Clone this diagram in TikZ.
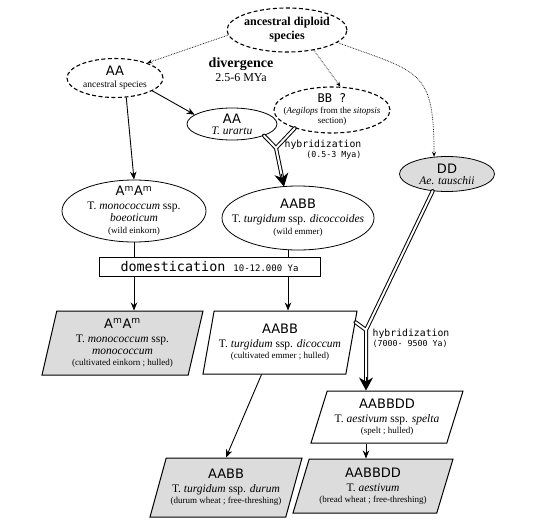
\documentclass[tikz,border=0pt]{standalone}
\usepackage{fontspec}
\setmainfont{Liberation Serif}
\newfontfamily\genFont{DejaVu Sans}
\newfontfamily\monoFont{DejaVu Sans Mono}
\usepackage{tikz}
\usetikzlibrary{shapes.geometric, arrows.meta, positioning, calc}
\definecolor{grisRelleno}{HTML}{DCDCDC}
\newcommand{\genTxt}[1]{{\genFont\fontsize{13}{15}\selectfont #1}}
\newcommand{\taxTxt}[1]{{\fontsize{11.5}{15}\selectfont #1}}
\newcommand{\noteTxt}[1]{{\fontsize{9}{11}\selectfont #1}}

\begin{document}
\begin{tikzpicture}[x=1pt, y=1pt, >={Stealth[length=8pt, width=6.5pt]},
        font=\fontsize{11}{14}\selectfont,
        elip/.style={ellipse, draw, line width=0.8pt, align=center,
            inner xsep=-20pt, inner ysep=-12pt},
        elipD/.style={elip, line width=1.1pt, dash pattern=on 4pt off 2.5pt},
        para/.style={trapezium, trapezium left angle=73, trapezium right angle=107,
            trapezium stretches body, draw, line width=1pt, inner sep=0pt, align=center},
        paraB/.style={para, trapezium left angle=66, trapezium right angle=114},
        flecha/.style={->, line width=0.9pt},
        punteada/.style={-{Stealth[length=5pt, width=4pt]}, densely dotted, line width=0.7pt},
        hibrido/.style={double, double distance=2pt, line width=1pt, line join=round, line cap=round},
        punta/.style={-{Stealth[length=13pt, width=14pt]}, line width=1pt},
        hibLbl/.style={font=\monoFont\fontsize{9.8}{10}\selectfont}]
    \useasboundingbox (0,0) rectangle (540,-522);
    \node[elipD, minimum width=120, minimum height=44, font=\fontsize{12}{14}\selectfont\bfseries]
        (anc) at (287,-30) {ancestral diploid\\species};
    \node[elipD, minimum width=96, minimum height=39] (aa) at (115,-78)
        {\genTxt{AA}\\[-2pt]{\fontsize{9.5}{11}\selectfont ancestral species}};
    \node[align=center] (div) at (241,-70)
        {{\bfseries\fontsize{14}{14}\selectfont divergence}\\{\fontsize{12}{12}\selectfont 2.5-6 MYa}};
    \node[elip, minimum width=90, minimum height=32] (ura) at (232,-124)
        {\genTxt{AA}\\[-3pt]\taxTxt{\textit{T. urartu}}};
    \node[elipD, minimum width=116, minimum height=46] (bb) at (332,-110)
        {{\monoFont\fontsize{12}{12}\selectfont BB ?}\\[-3pt]\noteTxt{(\textit{Aegilops} from the \textit{sitopsis}}\\[-4pt]\noteTxt{section)}};
    \node[elip, fill=grisRelleno, minimum width=95, minimum height=35] (dd) at (447,-174)
        {\genTxt{DD}\\[-3pt]\taxTxt{\textit{Ae. tauschii}}};
    \node[elip, minimum width=144, minimum height=62] (mmw) at (134,-211)
        {\genTxt{A\textsuperscript{m}A\textsuperscript{m}}\\\taxTxt{T. \textit{monococcum} ssp.}\\[-2pt]\taxTxt{\textit{boeoticum}}\\[-2pt]\noteTxt{(wild einkorn)}};
    \node[elip, minimum width=152, minimum height=64] (dic) at (298,-218)
        {\genTxt{AABB}\\\taxTxt{T. \textit{turgidum} ssp. \textit{dicoccoides}}\\[-2pt]\noteTxt{(wild emmer)}};
    \node[draw, line width=0.9pt, minimum width=221, minimum height=19, inner sep=0pt] (dom) at (209.5,-266.5)
        {\monoFont\fontsize{13.4}{14}\selectfont domestication {\fontsize{9}{10}\selectfont 10-12.000 Ya}};
    \node[para, fill=grisRelleno, minimum width=161, minimum height=64] (mmc) at (122.5,-343)
        {\genTxt{A\textsuperscript{m}A\textsuperscript{m}}\\\taxTxt{T. \textit{monococcum} ssp.}\\[-2pt]\taxTxt{\textit{monococcum}}\\[-3pt]\noteTxt{(cultivated einkorn ; hulled)}};
    \node[para, fill=white, minimum width=154, minimum height=63] (dcc) at (280,-342.5)
        {\genTxt{AABB}\\\taxTxt{T. \textit{turgidum} ssp. \textit{dicoccum}}\\[-3pt]\noteTxt{(cultivated emmer ; hulled)}};
    \node[paraB, fill=white, minimum width=152, minimum height=52] (spl) at (387,-417)
        {\genTxt{AABBDD}\\\taxTxt{T. \textit{aestivum} ssp. \textit{spelta}}\\[-3pt]\noteTxt{(spelt ; hulled)}};
    \node[paraB, fill=grisRelleno, minimum width=152, minimum height=59] (dur) at (226,-487.5)
        {\genTxt{AABB}\\\taxTxt{T. \textit{turgidum} ssp. \textit{durum}}\\[-3pt]\noteTxt{(durum wheat ; free-threshing)}};
    \node[paraB, fill=grisRelleno, minimum width=160, minimum height=54] (aes) at (373,-486)
        {\genTxt{AABBDD}\\\taxTxt{T. \textit{aestivum}}\\[-3pt]\noteTxt{(bread wheat ; free-threshing)}};
    \node[hibLbl, align=right] (hibLblA) at (323,-150)
        {hybridization\\{\fontsize{8.3}{9}\selectfont(0.5-3 Mya)}};
    \node[hibLbl, align=left] (hibLblB) at (411,-338)
        {hybridization\\{\fontsize{8.3}{9}\selectfont(7000- 9500 Ya)}};
    \coordinate (hibA) at (276,-148);
    \coordinate (hibB) at (366,-330);
    \coordinate (puntaA) at ($(dic.north)+(-14,-1)$);
    \coordinate (puntaB) at (hibB |- spl.north);
    \coordinate (dicBase) at ($(dic.south)+(-10,0)$);
    \draw[punteada] (anc.185) -- (aa.25);
    \draw[punteada] (anc.-37) -- (bb.70);
    \draw[punteada] (anc.-14) to[out=-20, in=90, looseness=1.5] (dd.127);
    \draw[flecha] (aa.-19) -- (ura.166);
    \draw[flecha] (aa.-60) -- (mmw.north);
    \draw[hibrido, shorten >=10pt] (ura.-20) -- (hibA) (bb.-154) -- (hibA) -- (puntaA);
    \draw[punta] ($(puntaA)!13pt!(hibA)$) -- (puntaA);
    \draw[hibrido, shorten >=10pt] (dcc.15) -- (hibB) (dd.-130) -- (hibB) -- (puntaB);
    \draw[punta] ($(puntaB)!13pt!(hibB)$) -- (puntaB);
    \draw[line width=0.9pt] (mmw.south) -- (mmw.south |- dom.north);
    \draw[flecha] (mmw.south |- dom.south) -- (mmw.south |- mmc.north);
    \draw[line width=0.9pt] (dicBase) -- (dicBase |- dom.north);
    \draw[flecha] (dicBase |- dom.south) -- (dicBase |- dcc.north);
    \draw[flecha] (dcc.-120) -- (dur.north);
    \draw[flecha] (hibB |- spl.south) -- (hibB |- aes.north);
\end{tikzpicture}
\end{document}
